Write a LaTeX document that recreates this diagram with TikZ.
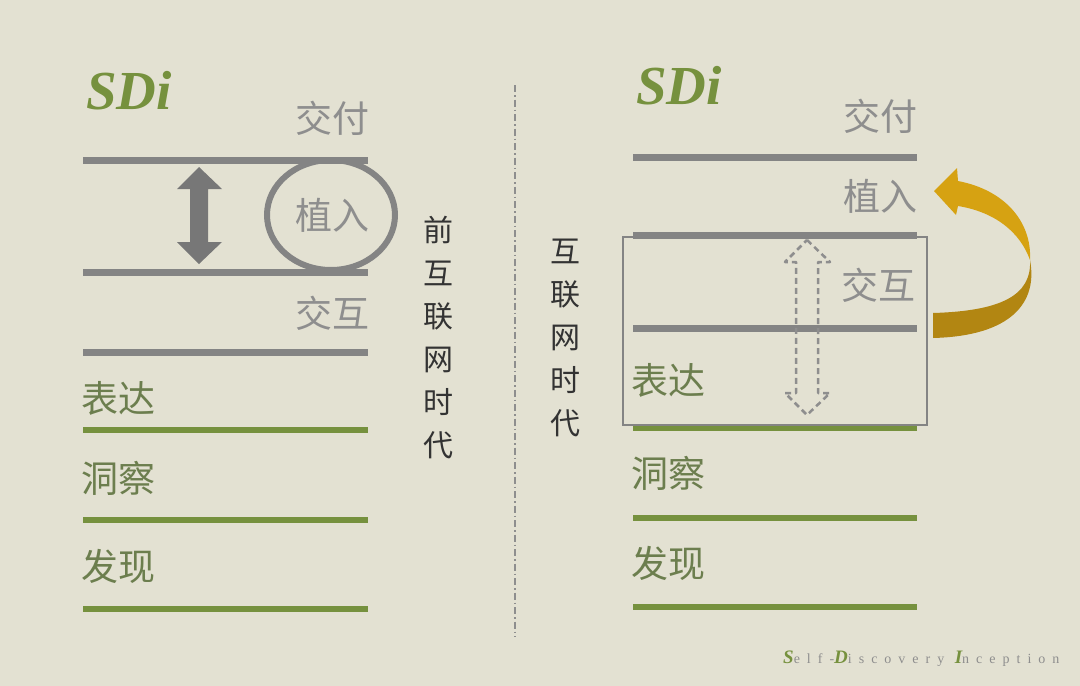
\documentclass[tikz,border=0pt]{standalone}
\usepackage{fontspec}
\setmainfont{Liberation Serif}
\newfontfamily\cjk{Noto Sans CJK SC}
\definecolor{paper}{RGB}{227,225,210}
\definecolor{bargray}{RGB}{132,132,132}
\definecolor{txtgray}{RGB}{142,142,142}
\definecolor{sdigreen}{RGB}{118,145,62}
\definecolor{lblgreen}{RGB}{108,126,78}
\definecolor{gold}{RGB}{214,162,18}
\definecolor{darkgold}{RGB}{178,134,18}
\newcommand\brandcap[1]{{\color{sdigreen}\fontsize{19}{19}\selectfont\bfseries\itshape #1}}
\tikzset{
  grayline/.style={line width=7pt,bargray},
  greenline/.style={line width=6pt,sdigreen},
  toplbl/.style={inner sep=0pt,txtgray,font=\cjk\fontsize{37}{37}\selectfont},
  lowlbl/.style={inner sep=0pt,lblgreen,font=\cjk\fontsize{37}{37}\selectfont},
  sdi/.style={inner sep=0pt,anchor=base west,sdigreen,font=\fontsize{55}{55}\selectfont\bfseries\itshape},
  eralbl/.style={inner sep=0pt,align=center,black!80,font=\cjk\fontsize{30}{43}\selectfont},
}
\begin{document}
\begin{tikzpicture}[x=1pt,y=-1pt]
\useasboundingbox (0,0) rectangle (1080,686);
\fill[paper] (0,0) rectangle (1080,686);

% left side
\node[sdi] (sdiL) at (86,109) {SDi};
\draw[grayline] (83,160) -- (368,160);
\draw[grayline] (83,272) -- (368,272);
\draw[grayline] (83,352) -- (368,352);
\draw[greenline] (83,430) -- (368,430);
\draw[greenline] (83,520) -- (368,520);
\draw[greenline] (83,609) -- (368,609);
\draw[bargray,line width=6pt] (331,215) ellipse [x radius=64,y radius=55];
\fill[bargray!90!black] (199,167) -- (222,189) -- (208,189) -- (208,242) -- (222,242)
  -- (199,264) -- (177,242) -- (190,242) -- (190,189) -- (177,189) -- cycle;
\node[toplbl] (jfL) at (332,118) {交付};
\node[toplbl] (zrL) at (332,215) {植入};
\node[toplbl] (jhL) at (332,313) {交互};
\node[lowlbl] (bdL) at (118,398) {表达};
\node[lowlbl] (dcL) at (118,478) {洞察};
\node[lowlbl] (fxL) at (118,566) {发现};
\node[eralbl] (preera) at (438,338) {前\\互\\联\\网\\时\\代};

% divider
\draw[txtgray,line width=1.5pt,dash pattern=on 7pt off 3pt on 1.5pt off 3pt] (515,85) -- (515,637);

% right side
\node[eralbl] (era) at (565,338) {互\\联\\网\\时\\代};
\node[sdi] (sdiR) at (636,104) {SDi};
\draw[grayline] (633,157) -- (917,157);
\draw[grayline] (633,235) -- (917,235);
\draw[grayline] (633,328) -- (917,328);
\draw[greenline] (633,428) -- (917,428);
\draw[greenline] (633,518) -- (917,518);
\draw[greenline] (633,607) -- (917,607);
\draw[bargray,line width=2.5pt] (623,237) rectangle (927,425);
\draw[txtgray,line width=2.5pt,dash pattern=on 6pt off 4pt,line join=round] (807,240) -- (830,262) -- (818,262) -- (818,393)
  -- (830,393) -- (807,415) -- (785,393) -- (796,393) -- (796,262) -- (785,262) -- cycle;
\node[toplbl] (jfR) at (880,116) {交付};
\node[toplbl] (zrR) at (880,196) {植入};
\node[toplbl] (jhR) at (878,285) {交互};
\node[lowlbl] (bdR) at (668,380) {表达};
\node[lowlbl] (dcR) at (668,473) {洞察};
\node[lowlbl] (fxR) at (668,563) {发现};

% gold loop
\fill[darkgold] (1030,260) .. controls (1032,296) and (1000,311) .. (933,313)
  -- (933,338) .. controls (1012,336) and (1038,302) .. (1030,260) -- cycle;
\fill[gold] (958,181) .. controls (1005,190) and (1032,222) .. (1030,260)
  .. controls (1020,232) and (995,212) .. (958,206)
  -- (956,215) -- (934,191) -- (957,168) -- cycle;

% footer
\node[inner sep=0pt,anchor=base west,txtgray] (brand) at (783,663)
  {\addfontfeatures{LetterSpace=50}\fontsize{14}{14}\selectfont
   \brandcap{S}elf-\brandcap{D}iscovery \brandcap{I}nception};
\end{tikzpicture}
\end{document}
